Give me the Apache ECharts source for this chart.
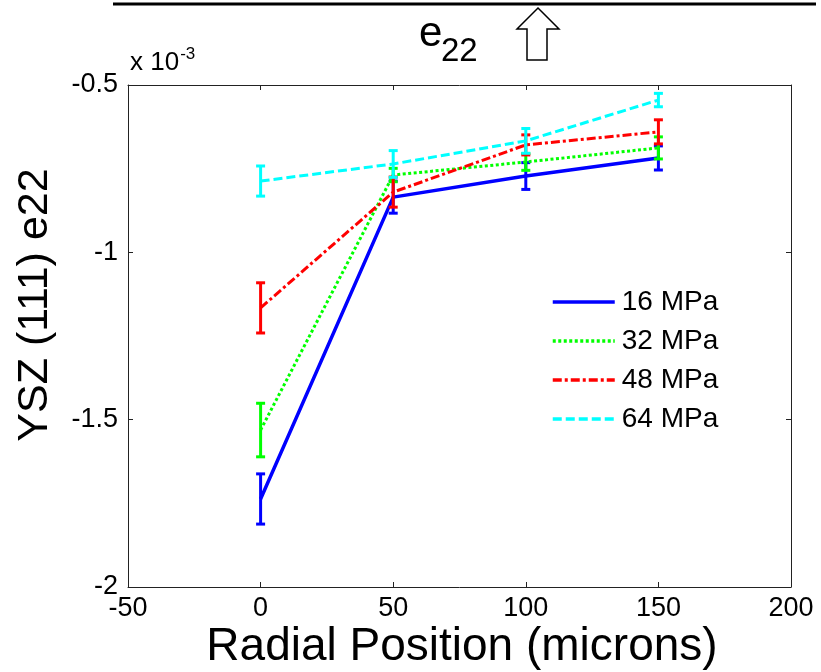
<!DOCTYPE html>
<html>
<head>
<meta charset="utf-8">
<script src="https://cdn.jsdelivr.net/npm/echarts@6/dist/echarts.min.js"></script>
<style>html,body{margin:0;padding:0;background:#fff;}#c{width:821px;height:672px;}</style>
</head>
<body>
<div id="c"></div>
<script>
// ---- data (values in units of 10^-3) ----
const positions = [0, 50, 100, 150];
const seriesNames = ['16 MPa', '32 MPa', '48 MPa', '64 MPa'];
const e16 = [-1.737, -0.835, -0.772, -0.718];
const err16 = [0.075, 0.048, 0.040, 0.036];
const e32 = [-1.531, -0.769, -0.730, -0.688];
const err32 = [0.080, 0.020, 0.025, 0.033];
const e48 = [-1.166, -0.820, -0.679, -0.640];
const err48 = [0.075, 0.045, 0.030, 0.036];
const e64 = [-0.787, -0.736, -0.667, -0.545];
const err64 = [0.045, 0.040, 0.037, 0.020];
const xTicks = [-50, 0, 50, 100, 150, 200];
const yTicks = [-2, -1.5, -1, -0.5];

const FONT = 'Liberation Sans, Arial, Helvetica, sans-serif';
const colors = ['#0000ff', '#00ff00', '#ff0000', '#00ffff'];
const dashes = ['solid', [3, 2.5], [9, 3, 3, 3], [9, 4]];
const widths = [3.5, 3, 3, 3];
const values = [e16, e32, e48, e64];
const errors = [err16, err32, err48, err64];

const chart = echarts.init(document.getElementById('c'), null, {renderer: 'canvas'});

const series = [];
values.forEach((vals, k) => {
  series.push({
    name: seriesNames[k],
    type: 'line',
    data: positions.map((x, i) => [x, vals[i]]),
    symbol: 'none',
    showSymbol: false,
    lineStyle: {color: colors[k], width: widths[k], type: dashes[k]},
    itemStyle: {color: colors[k]},
    z: 2 + k * 2,
    animation: false
  });
  series.push({
    name: seriesNames[k] + ' err',
    type: 'custom',
    data: positions.map((x, i) => [x, vals[i], errors[k][i]]),
    encode: {x: 0, y: 1},
    z: 3 + k * 2,
    animation: false,
    renderItem: function (params, api) {
      const x = api.value(0), v = api.value(1), e = api.value(2);
      const t = api.coord([x, v + e]);
      const b = api.coord([x, v - e]);
      const w = 4.5;
      const st = {stroke: colors[k], lineWidth: 3};
      return {
        type: 'group',
        children: [
          {type: 'line', shape: {x1: t[0], y1: t[1], x2: b[0], y2: b[1]}, style: st},
          {type: 'line', shape: {x1: t[0] - w, y1: t[1], x2: t[0] + w, y2: t[1]}, style: st},
          {type: 'line', shape: {x1: b[0] - w, y1: b[1], x2: b[0] + w, y2: b[1]}, style: st}
        ]
      };
    }
  });
});

const axisLineStyle = {onZero: false, lineStyle: {color: '#222', width: 1}};
const tickStyle = {inside: true, length: 5, lineStyle: {color: '#222', width: 1}};

const option = {
  backgroundColor: '#fff',
  animation: false,
  grid: {left: 128, right: 30, top: 85, bottom: 85, containLabel: false},
  xAxis: [
    {
      type: 'value', min: xTicks[0], max: xTicks[xTicks.length - 1], interval: 50,
      position: 'bottom',
      axisLine: axisLineStyle, axisTick: tickStyle, splitLine: {show: false},
      axisLabel: {fontSize: 27, color: '#000', fontFamily: FONT, margin: 8}
    },
    {
      type: 'value', min: xTicks[0], max: xTicks[xTicks.length - 1], interval: 50,
      position: 'top',
      axisLine: axisLineStyle, axisTick: tickStyle, splitLine: {show: false},
      axisLabel: {show: false}
    }
  ],
  yAxis: [
    {
      type: 'value', min: yTicks[0], max: yTicks[yTicks.length - 1], interval: 0.5,
      position: 'left',
      axisLine: axisLineStyle, axisTick: tickStyle, splitLine: {show: false},
      axisLabel: {fontSize: 27, color: '#000', fontFamily: FONT, margin: 10,
        formatter: v => String(v)}
    },
    {
      type: 'value', min: yTicks[0], max: yTicks[yTicks.length - 1], interval: 0.5,
      position: 'right',
      axisLine: axisLineStyle, axisTick: tickStyle, splitLine: {show: false},
      axisLabel: {show: false}
    }
  ],
  legend: {
    data: seriesNames,
    orient: 'vertical',
    left: 551, top: 288, padding: 0,
    itemWidth: 62, itemHeight: 14, itemGap: 11,
    itemStyle: {opacity: 0},
    lineStyle: {width: 3.5},
    textStyle: {fontSize: 28, lineHeight: 28, color: '#000', fontFamily: FONT, padding: [0, 0, 0, 2]}
  },
  graphic: [
    {type: 'line', shape: {x1: 113, y1: 4, x2: 816, y2: 4}, style: {stroke: '#000', lineWidth: 3}},
    {type: 'text', x: 419, y: 34,
      style: {text: 'e', fontSize: 42, fontFamily: FONT, fill: '#000', textAlign: 'left', textVerticalAlign: 'middle'}},
    {type: 'text', x: 441, y: 52,
      style: {text: '22', fontSize: 33, fontFamily: FONT, fill: '#000', textAlign: 'left', textVerticalAlign: 'middle'}},
    {type: 'polygon',
      shape: {points: [[538, 8], [559, 29], [547, 29], [547, 60], [527, 60], [527, 29], [517, 29]]},
      style: {fill: '#fff', stroke: '#000', lineWidth: 1.5}},
    {type: 'text', x: 130, y: 79,
      style: {text: 'x 10{s|-3}', fontSize: 26, fontFamily: FONT, fill: '#000', textAlign: 'left', textVerticalAlign: 'bottom',
        rich: {s: {fontSize: 17, fontFamily: FONT, fill: '#000', verticalAlign: 'top', padding: [0, 0, 16, 1]}}}},
    {type: 'text', x: 35, y: 305, rotation: Math.PI / 2,
      style: {text: 'YSZ (111) e22', fontSize: 43, fontFamily: FONT, fill: '#000', textAlign: 'center', textVerticalAlign: 'middle'}},
    {type: 'text', x: 462, y: 647,
      style: {text: 'Radial Position (microns)', fontSize: 46, fontFamily: FONT, fill: '#000', textAlign: 'center', textVerticalAlign: 'middle'}}
  ],
  series: series
};
chart.setOption(option);
</script>
</body>
</html>
